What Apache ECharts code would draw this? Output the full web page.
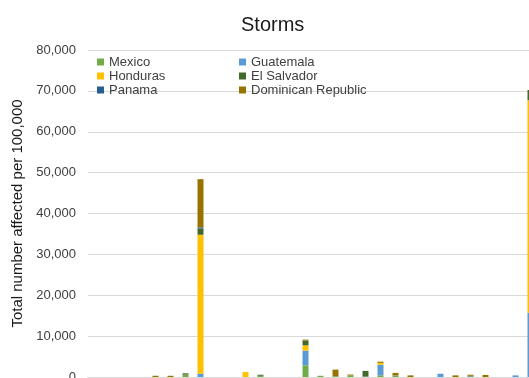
<!DOCTYPE html>
<html>
<head>
<meta charset="utf-8">
<script src="https://cdn.jsdelivr.net/npm/echarts@6/dist/echarts.min.js"></script>
<style>
  html, body { margin: 0; padding: 0; background: #ffffff; }
  #chart { width: 529px; height: 378px; }
</style>
</head>
<body>
<div id="chart"></div>
<script>
// Years of storm events
const years = ['1991','1992','1993','1994','1995','1996','1997','1998','1999','2000',
               '2001','2002','2003','2004','2005','2006','2007','2008','2009','2010',
               '2011','2012','2013','2014','2015','2016','2017','2018','2019','2020'];

// Total number affected per 100,000, by country (0 = no event)
const mexico     = [0,0,0,0,0,0,600,0,0,0, 0,300,0,0,2850,300,200,400,100,400, 400,0,0,0,0,150,0,0,0,0];
const guatemala  = [0,0,0,0,0,0,0,800,0,0, 0,0,0,0,3600,0,0,0,0,2600, 0,0,0,800,0,0,0,0,400,15700];
const honduras   = [0,0,0,0,0,0,0,34000,0,0, 1200,0,0,0,1300,0,0,0,0,450, 0,0,0,0,0,0,0,0,0,52000];
const elSalvador = [0,0,0,0,0,0,300,1500,0,0, 0,250,0,0,1150,0,0,0,1400,0, 0,0,0,0,0,150,0,0,0,2500];
const panama     = [0,0,0,0,0,0,0,300,0,0, 0,0,0,0,0,0,0,0,0,0, 0,0,0,0,0,0,0,0,0,0];
const dominicanRepublic = [0,0,0,0,300,300,0,11800,0,0, 0,0,0,0,250,0,1600,200,0,300, 600,400,0,0,400,250,500,0,0,0];

// Y axis ticks
const yMin = 0, yMax = 80000, yStep = 10000;

const seriesDefs = [
  { name: 'Mexico', data: mexico, color: '#70AD47' },
  { name: 'Guatemala', data: guatemala, color: '#5B9BD5' },
  { name: 'Honduras', data: honduras, color: '#FFC000' },
  { name: 'El Salvador', data: elSalvador, color: '#43682B' },
  { name: 'Panama', data: panama, color: '#255E91' },
  { name: 'Dominican Republic', data: dominicanRepublic, color: '#997300' }
];

const chart = echarts.init(document.getElementById('chart'), null, { renderer: 'canvas' });

const legendText = { color: '#404040', fontSize: 13, fontFamily: 'Liberation Sans, Arial, sans-serif', lineHeight: 14 };

chart.setOption({
  animation: false,
  backgroundColor: '#ffffff',
  textStyle: { fontFamily: 'Liberation Sans, Arial, sans-serif' },
  title: {
    text: 'Storms',
    left: 236,
    top: 10,
    textStyle: { fontSize: 20, fontWeight: 'normal', color: '#1a1a1a', fontFamily: 'Liberation Sans, Arial, sans-serif' }
  },
  legend: [
    {
      data: ['Mexico', 'Honduras', 'Panama'],
      orient: 'vertical', left: 92, top: 50, itemGap: 0,
      itemWidth: 7, itemHeight: 7, icon: 'rect',
      textStyle: legendText
    },
    {
      data: ['Guatemala', 'El Salvador', 'Dominican Republic'],
      orient: 'vertical', left: 234, top: 50, itemGap: 0,
      itemWidth: 7, itemHeight: 7, icon: 'rect',
      textStyle: legendText
    }
  ],
  grid: { left: 88, top: 50, width: 450, height: 327, outerBoundsMode: 'none', containLabel: false },
  xAxis: {
    type: 'category',
    data: years,
    axisLine: { show: true, lineStyle: { color: '#D9D9D9' } },
    axisTick: { show: false },
    axisLabel: { show: false }
  },
  yAxis: {
    type: 'value',
    min: yMin, max: yMax, interval: yStep,
    name: 'Total number affected per 100,000',
    nameLocation: 'middle',
    nameGap: 53,
    nameTextStyle: { fontSize: 15, color: '#1a1a1a', fontFamily: 'Liberation Sans, Arial, sans-serif' },
    axisLine: { show: false },
    axisTick: { show: false },
    axisLabel: {
      margin: 12, fontSize: 13, color: '#404040',
      formatter: v => v.toLocaleString('en-US')
    },
    splitLine: { lineStyle: { color: '#D9D9D9', width: 1 } }
  },
  series: seriesDefs.map(s => ({
    name: s.name,
    type: 'bar',
    stack: 'total',
    barWidth: 6,
    data: s.data,
    itemStyle: { color: s.color }
  }))
});
</script>
</body>
</html>
